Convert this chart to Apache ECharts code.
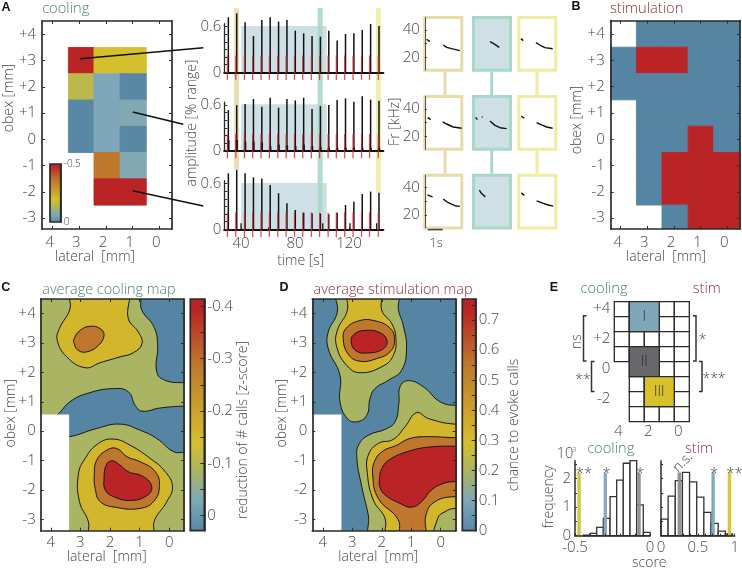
<!DOCTYPE html>
<html><head><meta charset="utf-8">
<style>html,body{margin:0;padding:0;background:#fff}#c{width:742px;height:569px}</style>
<script src="https://cdn.jsdelivr.net/npm/echarts@6/dist/echarts.min.js"></script>
</head><body><div id="c"></div>
<script>
// ---------- colours ----------
const BLUE='#5685a3',LBLUE='#7fa7b9',OLIVE='#a9b562',YEL='#d2b72c',ORG='#bf772d',RED='#bb2426';
const SHADE='#cfdfe6',TAN='#e8dca8',MINT='#a8d8c8',PALE='#f0eca2';
const GREENT='#4f7f73',REDT='#8e2f38',TEXT='#474747',INK='#2b2b2b',FONT='"Open Sans"';

// ---------- panel A: cooling map ----------
const coolLateral=[2.92,1.96,0.98];
const coolObex=[3,2,1,0,-1,-2];
const coolValues=[
 [-.5,-.19,-.19],
 [-.155,-.065,-.005],
 [-.005,-.065,-.07],
 [-.005,-.065,-.005],
 [null,-.36,-.07],
 [null,-.5,-.5]];
const barTicksA=[-.5,0];

// ---------- panel A: amplitude traces ----------
const peakTimes=[30.6,36.8,43,49.2,55.4,61.6,67.8,74,80.2,86.4,92.6,98.8,105,111.2,117.4,123.6,129.8,136,142.2];
const stimTimes=[29.9,36.1,42.5,48.6,54.8,61,67.2,73.4,79.6,85.7,92.1,98.2,104.5,110.6,116.8,123,129.3,135.2,141.7];
const ampTop=[.724,.776,.658,.478,.689,.724,.667,.689,.548,.513,.478,.469,.548,.417,.504,.513,.557,.636,.61];
const ampMid=[.535,.60,.614,.68,.579,.697,.566,.68,.662,.697,.548,.588,.60,.667,.689,.645,.715,.671,.658];
const ampMidLow=[.14,.14,.12,.12,.11,.06,.08,.07,.06,.08,.06,.05,.04,.04,.04,.04,.04,.04,.04];
const ampBot=[.737,.78,.737,.684,.667,.583,.474,.342,.254,.219,.21,.21,.197,.219,.32,.364,.465,.496,.482];
const botExtraTimes=[40,100.5,120.7,140.5];
const botExtraAmp=[.08,.08,.08,.08];
const coolingWindow=[40,103.5,0.61];
const stripeBands=[[34.8,38.5,.268,TAN],[96.8,100.5,.078,MINT],[140,143.7,.164,PALE]];

// ---------- panel A: spectrogram contours [s, kHz], null separates syllables ----------
const spec11=[[.22,33.2],[.44,31.5],[null,null],[1.33,29],[1.56,27.3],[1.89,26.3],[2.44,24.9]];
const spec12=[[1.2,31.5],[1.42,30.2],[1.82,27.3]];
const spec13=[[.24,33.7],[.4,32.2],[null,null],[1.24,30.7],[1.51,29],[1.84,27.1],[2.36,26.3]];
const spec21=[[.29,33.7],[.49,32.2],[null,null],[1.29,30.5],[1.56,29],[2.0,26.8],[2.56,25.9]];
const spec22=[[.24,33.9],[.36,32.2],[null,null],[.69,34.6],[.69,33.7],[null,null],[1.2,31.2],[1.53,28],[1.87,26.3],[2.31,25.6]];
const spec23=[[.27,34.9],[.47,33.2],[null,null],[1.29,30],[1.62,28.3],[1.96,26.8],[2.36,25.9]];
const spec31=[[.27,34.8],[.62,33.3],[null,null],[1.33,31.6],[1.67,29],[2.11,26.8],[2.44,26.3]];
const spec32=[[.49,38.2],[.64,35.7],[.89,33.3]];
const spec33=[[.27,36.2],[.47,34.3],[null,null],[1.29,30.4],[1.73,28.5],[2.07,27.3],[2.4,26.5]];

// ---------- panel B: stimulation map (0 no call, 1 call, null untested) ----------
const stimLateral=[3.9,2.92,1.96,0.98,0.02];
const stimObex=[4,3,2,1,0,-1,-2,-3];
const stimValues=[
 [null,0,0,0,0],
 [0,1,1,0,0],
 [0,0,0,0,0],
 [null,0,0,0,0],
 [null,0,0,1,0],
 [null,0,1,1,1],
 [null,0,1,1,1],
 [null,null,0,1,1]];

// ---------- panel C: contours [lateral mm, obex mm] ----------
const cBlueTop=[[.96,5.5],[.96,4.48],[.92,4.11],[.51,3.54],[.39,2.92],[.42,2.02],[.135,1.73],[-.51,1.65],[-1.8,1.65],[-1.8,5.5]];
const cBlueMid=[[3.78,.55],[3.35,1.0],[2.78,1.28],[1.88,1.45],[1.38,1.34],[1.15,.88],[.92,.68],[.30,.79],[-.51,.85],[-2.2,.85],[-2.2,-.76],[-.51,-.72],[-.15,-.70],[.42,-.25],[.98,.03],[1.66,.24],[2.45,.09],[3.37,-.19],[4.25,-.25],[4.25,.2]];
const cYellowTop=[[3.33,4.85],[3.35,4.17],[3.71,3.49],[3.78,3.09],[3.46,2.53],[2.84,2.16],[2.33,2.33],[1.66,2.53],[1.21,2.67],[.92,2.98],[1.04,3.37],[1.38,3.83],[1.45,4.85]];
const cOrangeTop=[[3.21,3.15],[3.01,3.43],[2.67,3.57],[2.33,3.49],[2.20,3.26],[2.39,2.92],[2.78,2.70],[3.07,2.75],[3.21,2.98]];
const cYellowLow=[[2.65,-3.76],[2.73,-3.08],[3.03,-2.40],[3.07,-1.49],[2.84,-.93],[2.39,-.42],[1.88,-.27],[1.32,-.48],[.64,-.93],[.135,-1.38],[-.11,-1.89],[.08,-2.40],[.51,-3.08],[.55,-3.76]];
const cOrangeLow=[[2.53,-1.49],[2.45,-.99],[2.11,-.65],[1.77,-.59],[1.43,-.87],[.98,-1.04],[.47,-1.38],[.33,-1.89],[.53,-2.40],[.98,-2.63],[1.77,-2.60],[2.33,-2.40],[2.50,-1.95]];
const cRedLow=[[2.20,-1.61],[2.13,-1.16],[1.94,-1.01],[1.71,-1.12],[1.38,-1.38],[.87,-1.55],[.59,-1.89],[.76,-2.20],[1.32,-2.36],[1.88,-2.23],[2.16,-2.00]];

// ---------- panel D: contours ----------
const dGreenTop=[[3.51,4.85],[3.51,4.05],[3.82,3.37],[3.82,2.81],[3.42,1.90],[3.42,1.0],[3.17,.43],[2.85,.32],[2.51,.54],[2.40,1.11],[2.23,1.45],[1.78,1.73],[1.33,2.07],[1.16,2.81],[1.27,3.60],[1.44,4.17],[1.44,4.85]];
const dYellowTop=[[3.14,4.85],[3.17,4.11],[3.51,3.43],[3.53,2.87],[3.19,2.24],[2.74,1.99],[1.95,2.22],[1.61,2.58],[1.52,3.15],[1.66,3.66],[2.0,4.11],[2.06,4.85]];
const dOrangeTop=[[3.31,3.15],[3.22,3.49],[2.80,3.75],[2.29,3.77],[1.72,3.51],[1.57,3.09],[1.72,2.70],[2.17,2.47],[2.74,2.38],[3.14,2.62]];
const dRedTop=[[3.04,3.04],[2.94,3.30],[2.57,3.43],[2.06,3.35],[1.82,3.07],[1.97,2.79],[2.51,2.66],[2.88,2.74]];
const dGreenLow=[[2.32,-3.76],[2.46,-2.85],[2.68,-1.89],[2.85,-.87],[2.76,-.42],[2.40,-.11],[1.89,.06],[1.55,.32],[1.42,.94],[1.38,1.51],[1.10,1.72],[.59,1.51],[.02,1.0],[-.51,.88],[-2,.86],[-2,-3.76]];
const dYellowLow=[[1.78,-3.70],[1.89,-2.97],[2.29,-2.34],[2.49,-1.44],[2.46,-.82],[2.12,-.42],[1.61,-.28],[1.21,.15],[.82,.63],[.42,.43],[-.49,.24],[-2.24,.24],[-2.24,-3.7]];
const dOrangeLow=[[1.35,-3.70],[1.44,-3.02],[2.12,-2.29],[2.31,-1.49],[2.23,-.99],[1.95,-.67],[1.49,-.48],[1.10,-.27],[.59,-.19],[-.49,-.22],[-2.24,-.22],[-2.24,-2.23],[-.49,-2.23],[.19,-2.40],[.50,-2.85],[.57,-3.70]];
const dRedLow=[[2.08,-1.66],[2.0,-1.27],[1.72,-.96],[1.04,-.67],[.36,-.54],[-.49,-.51],[-2.24,-.51],[-2.24,-1.72],[-.49,-1.72],[-.09,-1.78],[.31,-2.0],[.65,-2.4],[.99,-2.59],[1.38,-2.46],[1.89,-2.17],[2.06,-1.91]];
const dGreenCorner=[[.14,-3.7],[.10,-2.97],[-.15,-2.74],[-.49,-2.63],[-2.24,-2.63],[-2.24,-3.7]];
const untestedC=[4.6,3.38,.57,-3.6];
const untestedD=[4.6,3.37,.57,-3.6];

// ---------- colour bars ----------
const barStops=[[0,BLUE],[.13,LBLUE],[.26,OLIVE],[.38,'#d6bf2c'],[.72,ORG],[.95,RED],[1,RED]];
const barLabelsC=[-.4,-.3,-.2,-.1,0];
const barTicksC=[-.4,-.35,-.3,-.25,-.2,-.15,-.1,-.05,0];
const barLabelsD=[0,.1,.2,.3,.4,.5,.6,.7];
const barTicksD=[0,.05,.1,.15,.2,.25,.3,.35,.4,.45,.5,.55,.6,.65,.7,.75];

// ---------- panel E: regions ----------
const regionLateral=[4,3,2,1,0];
const regionObex=[4,3,2,1,0,-1,-2,-3];
const regionMask=[[1,1,1,1,1],[1,1,1,1,1],[1,1,1,1,1],[1,1,1,1,1],[0,1,1,1,1],[0,1,1,1,1],[0,1,1,1,1],[0,1,1,1,1]];
const regionBlocks=[[3.5,1.5,4.5,2.5,LBLUE,'I'],[3.5,1.5,1.5,-.5,'#68686c','II'],[2.5,.5,-.5,-2.5,'#d8c22c','III']];

// ---------- panel E: histograms (score, frequency x 10^3) ----------
const coolBins=[-.422,-.378,-.333,-.289,-.244,-.2,-.156,-.111,-.067,-.022];
const coolFreq=[.02,.08,.29,.61,1.37,1.95,2.54,2.63,1.08,.12];
const coolCuts=[[-.473,2.2,'#d8c22c','**'],[-.298,2.2,LBLUE,'*'],[-.073,2.2,'#8d8d8d','*']];
const stimBins=[.048,.145,.242,.339,.436,.533,.63,.727,.824,.921];
const stimFreq=[.58,1.39,1.93,2.22,1.89,1.35,.82,.43,.16,.06];
const stimCuts=[[.248,2.22,'#8d8d8d',''],[.707,2.22,LBLUE,'*'],[.928,2.22,'#d8c22c','**']];

// ---------- helpers ----------
const option={animation:false,backgroundColor:'#fff',grid:[],xAxis:[],yAxis:[],series:[],graphic:{elements:[]}};
function axis(grid,range,c){c=c||{};return{gridIndex:grid,type:'value',min:range[0],max:range[1],inverse:!!c.inverse,position:c.position,z:5,
  splitLine:{show:false},
  axisLine:{show:c.line!==false,onZero:false,lineStyle:{color:c.lineColor||INK,width:c.lw||1.7}},
  axisTick:{show:!!c.ticks,inside:true,length:c.tlen||3,customValues:c.ticks,lineStyle:{color:INK,width:1}},
  axisLabel:{show:!!c.labels,customValues:c.labels,margin:c.margin===undefined?5:c.margin,formatter:c.fmt,padding:c.pad,color:TEXT,fontFamily:'Open Sans',fontWeight:300,fontSize:c.size||15}};}
function panel(l,t,w,h,xr,yr,xc,yc,g){
  const gi=option.grid.length;
  option.grid.push(Object.assign({left:l,top:t,width:w,height:h,containLabel:false,show:false},g||{}));
  const xi=option.xAxis.length,yi=option.yAxis.length;
  option.xAxis.push(axis(gi,xr,Object.assign({position:'bottom'},xc)));
  option.yAxis.push(axis(gi,yr,Object.assign({position:'left'},yc)));
  return{gi,xi,yi,xr,yr};
}
function mirror(p,xc,yc){
  option.xAxis.push(axis(p.gi,p.xr,Object.assign({position:'top'},xc)));
  option.yAxis.push(axis(p.gi,p.yr,Object.assign({position:'right'},yc)));
}
function custom(p,items,draw,z,clip){
  option.series.push({type:'custom',xAxisIndex:p.xi,yAxisIndex:p.yi,z:z||2,clip:!!clip,silent:true,
    data:items.map((_,i)=>[i,0]),renderItem:(params,api)=>draw(items[params.dataIndex],api)});
}
function rectOf(api,x0,y0,x1,y1){const a=api.coord([x0,y0]),b=api.coord([x1,y1]);
  return{x:Math.min(a[0],b[0]),y:Math.min(a[1],b[1]),width:Math.abs(a[0]-b[0]),height:Math.abs(a[1]-b[1])};}
function hex(c){return[1,3,5].map(i=>parseInt(c.substr(i,2),16));}
function ramp(f){f=Math.max(0,Math.min(1,f));for(let i=1;i<barStops.length;i++){if(f<=barStops[i][0]){
  const [a,ca]=barStops[i-1],[b,cb]=barStops[i],t=(f-a)/(b-a),A=hex(ca),B=hex(cb);
  return'rgb('+A.map((v,k)=>Math.round(v+(B[k]-v)*t)).join(',')+')';}}return RED;}
function txt(x,y,s,o){o=o||{};option.graphic.elements.push({type:'text',x,y,z:100,rotation:o.rot||0,silent:true,
  style:{text:s,fill:o.color||TEXT,align:o.align||'center',verticalAlign:'middle',font:(o.weight||300)+' '+(o.size||14)+'px '+(o.family||FONT)}});}
function seg(pts,color,w){option.graphic.elements.push({type:'polyline',z:90,silent:true,shape:{points:pts},style:{stroke:color||'#111',lineWidth:w||1.5,fill:null}});}
const signed=v=>v>0?'+'+v:''+v;
const YT=[4,3,2,1,0,-1,-2,-3],XT=[4,3,2,1,0];
function mapPanel(l,t,w,h,xr,yr,margin,pad){
  return panel(l,t,w,h,xr,yr,
    {inverse:true,ticks:XT,labels:XT,margin:margin,pad:pad},
    {ticks:YT,labels:YT,fmt:signed,margin:margin});
}
function mapMirror(p){mirror(p,{inverse:true,ticks:XT},{ticks:YT});}
function contours(p,list,z){custom(p,list,(it,api)=>({type:'polygon',shape:{points:it[0].map(q=>api.coord(q)),smooth:.45},
  style:{fill:it[1],stroke:'#161616',lineWidth:1}}),z||2,true);}
function colorBar(l,t,w,h,yr,inv,labels,ticks,size,margin){
  const p=panel(l,t,w,h,[0,1],yr,{line:false},{inverse:inv,position:'right',labels,ticks,size,margin,lw:1.7,tlen:4});
  option.xAxis[p.xi].show=false;
  const st=barStops.map(s=>({offset:1-s[0],color:s[1]})).reverse();
  custom(p,[0],(_,api)=>({type:'rect',shape:rectOf(api,0,yr[0],1,yr[1]),style:{fill:{type:'linear',x:0,y:0,x2:0,y2:1,colorStops:st},stroke:INK,lineWidth:1.7}}),2);
  return p;
}
function vlines(p,xs,lows,highs,color,w,z){
  custom(p,xs.map((x,i)=>[x,Array.isArray(lows)?lows[i]:lows,Array.isArray(highs)?highs[i]:highs]),
   (v,api)=>{const a=api.coord([v[0],v[1]]),b=api.coord([v[0],v[2]]);
     return{type:'line',shape:{x1:a[0],y1:a[1],x2:b[0],y2:b[1]},style:{stroke:color,lineWidth:w}};},z);
}

// ---------- panel A heatmap ----------
{
 const cells=[];coolValues.forEach((r,i)=>r.forEach((v,j)=>{if(v!==null)cells.push([coolLateral[j],coolObex[i],v]);}));
 const p=mapPanel(42,21,130,208,[-.475,4.4],[-3.41,4.507],6,[0,6,0,0]);mapMirror(p);
 custom(p,cells,(c,api)=>{const col=ramp(Math.abs(c[2])/.5);return{type:'rect',shape:rectOf(api,c[0]+.49,c[1]+.5,c[0]-.49,c[1]-.5),style:{fill:col,stroke:col,lineWidth:.9}};},2,true);
 colorBar(50,164,10.7,58,[-.5,0],true,barTicksA,null,10,3);
}
// ---------- panel A traces ----------
{
 const TR=[27.6,145.4];
 const ov=panel(224.3,8,159,221.3,TR,[0,1],{line:false},{line:false});
 option.xAxis[ov.xi].show=false;option.yAxis[ov.yi].show=false;
 const shadePanels=[];
 [[72.3,ampTop],[150.7,ampMid],[229.3,ampBot]].forEach((d,i)=>{
  const base=d[0],top=base-.64*76;
  const last=i===2;
  const p=panel(224.3,top,159,.64*76,TR,[0,.64],
   {lw:2.2,lineColor:'#111',ticks:last?[40,60,80,100,120,140]:null,labels:last?[40,80,120]:null,margin:7,tlen:2},
   {lw:1.3,ticks:[0,.1,.2,.3,.4,.5,.6],labels:[0,.6],margin:3,tlen:3});
  custom(p,[coolingWindow],(w,api)=>({type:'rect',shape:rectOf(api,w[0],0,w[1],w[2]),style:{fill:SHADE}}),1);
  shadePanels.push(p);
 });
 custom(ov,stripeBands,(b,api)=>({type:'rect',shape:rectOf(api,b[0],b[2],b[1],1),style:{fill:b[3],opacity:.9}}),2);
 vlines(shadePanels[0],peakTimes,0,ampTop,'#111',1.5,3);
 vlines(shadePanels[1],peakTimes,0,ampMid,'#111',1.5,3);
 vlines(shadePanels[1],peakTimes,0,ampMidLow,'#111',2.4,3);
 vlines(shadePanels[2],peakTimes,0,ampBot,'#111',1.5,3);
 vlines(shadePanels[2],botExtraTimes,0,botExtraAmp,'#111',1.3,3);
 shadePanels.forEach(p=>vlines(p,stimTimes,-.1,.22,'rgba(200,40,50,.8)',1.25,6));
}
// ---------- panel A spectrograms ----------
{
 const cols=[[424.8,TAN,'#fff'],[473.5,MINT,SHADE],[518.8,PALE,'#fff']];
 const tops=[17.5,96.5,175.2];
 const specs=[[spec11,spec12,spec13],[spec21,spec22,spec23],[spec31,spec32,spec33]];
 tops.forEach((t,r)=>cols.forEach((c,k)=>{
  const withAxis=k===0;
  const p=panel(c[0],t,37,52.7,[.1,2.57],[10.5,49.2],{line:false},
    {line:withAxis,lw:1,lineColor:'#555',ticks:withAxis?[20,30,40]:null,labels:withAxis?[20,40]:null,margin:5,tlen:2},
    {show:true,borderColor:c[1],borderWidth:3,backgroundColor:c[2]});
  option.series.push({type:'line',xAxisIndex:p.xi,yAxisIndex:p.yi,data:specs[r][k],showSymbol:false,symbol:'none',connectNulls:false,silent:true,
    lineStyle:{color:'#111',width:1.4},z:4});
 }));
 [[445,TAN],[491.7,MINT],[537,PALE]].forEach(c=>{[[71.7,95],[150,173.7]].forEach(s=>seg([[c[0],s[0]],[c[0],s[1]]],c[1],3));});
}
// ---------- panel B ----------
{
 const cells=[];stimValues.forEach((r,i)=>r.forEach((v,j)=>{if(v!==null)cells.push([stimLateral[j],stimObex[i],v]);}));
 const p=mapPanel(610.7,20.7,129.3,208.3,[-.477,4.376],[-3.41,4.507],6,[0,6,0,0]);mapMirror(p);
 custom(p,cells,(c,api)=>{const col=c[2]?RED:BLUE;return{type:'rect',shape:rectOf(api,c[0]+.49,c[1]+.5,c[0]-.49,c[1]-.5),style:{fill:col,stroke:col,lineWidth:.9}};},2,true);
}
// ---------- panel C ----------
{
 const p=mapPanel(40.7,299,143.3,231.7,[-.5,4.34],[-3.39,4.5],5);mapMirror(p);
 custom(p,[0],(_,api)=>({type:'rect',shape:rectOf(api,-1,-4,5,5),style:{fill:OLIVE}}),1,true);
 contours(p,[[cBlueTop,BLUE],[cBlueMid,BLUE],[cYellowTop,YEL],[cOrangeTop,ORG],[cYellowLow,YEL],[cOrangeLow,ORG],[cRedLow,RED]],2);
 custom(p,[untestedC],(u,api)=>({type:'rect',shape:rectOf(api,u[0],u[2],u[1],u[3]),style:{fill:'#fff'}}),3,true);
 colorBar(190.3,299,14,231.7,[-.414,.0287],true,barLabelsC,barTicksC,15,3);
}
// ---------- panel D ----------
{
 const p=mapPanel(312.3,299,143.4,231.7,[-.51,4.36],[-3.39,4.5],5);mapMirror(p);
 custom(p,[0],(_,api)=>({type:'rect',shape:rectOf(api,-1,-4,5,5),style:{fill:BLUE}}),1,true);
 contours(p,[[dGreenTop,OLIVE],[dYellowTop,YEL],[dOrangeTop,ORG],[dRedTop,RED],[dGreenLow,OLIVE],[dYellowLow,YEL],[dOrangeLow,ORG],[dRedLow,RED],[dGreenCorner,OLIVE]],2);
 custom(p,[untestedD],(u,api)=>({type:'rect',shape:rectOf(api,u[0],u[2],u[1],u[3]),style:{fill:'#fff'}}),3,true);
 colorBar(462.3,299,13.4,231.7,[0,.77],false,barLabelsD,barTicksD,15,3);
}
// ---------- panel E regions ----------
{
 const p=panel(614.3,301.7,75,120,[-.5,4.5],[-3.5,4.5],
   {inverse:true,line:false,labels:[4,2,0],margin:3,pad:[0,7,0,0]},
   {line:false,labels:[4,2,0,-2],fmt:signed,margin:4,pad:[9,0,0,0]});
 const cells=[];regionMask.forEach((r,i)=>r.forEach((m,j)=>{if(m)cells.push([regionLateral[j],regionObex[i]]);}));
 custom(p,cells,(c,api)=>({type:'rect',shape:rectOf(api,c[0]+.5,c[1]+.5,c[0]-.5,c[1]-.5),style:{fill:'#fff',stroke:'#2b2b2b',lineWidth:1.3}}),2);
 custom(p,regionBlocks,(b,api)=>{const s=rectOf(api,b[0],b[2],b[1],b[3]);
   return{type:'group',children:[{type:'rect',shape:s,style:{fill:b[4],stroke:'#2b2b2b',lineWidth:1.3}},
     {type:'text',x:s.x+s.width/2,y:s.y+s.height/2,style:{text:b[5],fill:'#2b2b2b',align:'center',verticalAlign:'middle',font:'300 14px '+FONT}}]};},3);
}
// ---------- panel E histograms ----------
function hist(l,w,xr,bins,freq,cuts,binW,xlabels,xticks,ylabels){
 const p=panel(l,460.7,w,75,xr,[0,2.63],{labels:xlabels,ticks:xticks,margin:5,lw:1.5,tlen:2},
   {labels:ylabels,ticks:[0,.5,1,1.5,2,2.5],margin:4,lw:1.5,tlen:2});
 custom(p,bins.map((b,i)=>[b,freq[i]]),(b,api)=>({type:'rect',shape:rectOf(api,b[0]-binW/2,0,b[0]+binW/2,b[1]),style:{fill:'#fff',stroke:'#333',lineWidth:1.3}}),2);
 custom(p,cuts,(c,api)=>{const a=api.coord([c[0],0]),b=api.coord([c[0],c[1]]);
   return{type:'group',children:[{type:'line',shape:{x1:a[0],y1:a[1],x2:b[0],y2:b[1]},style:{stroke:c[2],lineWidth:3.4,opacity:.95}},
     {type:'text',x:b[0]+(c[3].length>1?5:1),y:b[1]+1,style:{text:c[3],fill:TEXT,align:'center',verticalAlign:'middle',font:'300 15px '+FONT}}]};},3);
}
hist(575,75,[-.5,0],coolBins,coolFreq,coolCuts,.0444,[-.5,0],[-.5,-.4,-.3,-.2,-.1,0],[0,1,2]);
hist(661,74,[0,1],stimBins,stimFreq,stimCuts,.0968,[0,.5,1],[0,.1,.2,.3,.4,.5,.6,.7,.8,.9,1],null);

// ---------- connector lines & brackets ----------
seg([[80,58.7],[203.3,47.7]],'#111',1.5);
seg([[132.7,112],[183.3,124.3]],'#111',1.5);
seg([[132.7,190.7],[203.3,206]],'#111',1.5);
seg([[427.7,229.6],[442.7,229.6]],'#444',1.6);
seg([[586.5,315.7],[583.5,315.7],[583.5,361],[586.5,361]],'#333',1.5);
seg([[594.5,361.5],[591.5,361.5],[591.5,391.5],[594.5,391.5]],'#333',1.5);
seg([[693,315.7],[696,315.7],[696,361],[693,361]],'#333',1.5);
seg([[699,361.5],[702,361.5],[702,391.5],[699,391.5]],'#333',1.5);

// ---------- text ----------
const U=Math.PI/2;
[['A',6,7.5],['B',576,7],['C',5.7,287.7],['D',284,287.7],['E',554,287.7]].forEach(a=>txt(a[1],a[2],a[0],{weight:700,size:12.5,family:'Liberation Sans',color:'#111'}));
txt(65.7,9.3,'cooling',{color:GREENT,size:14.7});
txt(646.7,9.3,'stimulation',{color:REDT,size:14.7});
txt(109,290,'average cooling map',{color:GREENT,size:14.4});
txt(393,290,'average stimulation map',{color:REDT,size:14.4});
txt(604,289,'cooling',{color:GREENT,size:14.7});
txt(706.7,289,'stim',{color:REDT,size:14.7});
txt(610.7,449,'cooling',{color:GREENT,size:14.7});
txt(699,449,'stim',{color:REDT,size:14.7});
txt(9.3,98,'obex [mm]',{rot:U});
txt(95,256.7,'lateral  [mm]');
txt(192,123,'amplitude [% range]',{rot:U});
txt(300.7,261,'time [s]');
txt(395,121.7,'Fr [kHz]',{rot:U});
txt(436,243,'1s',{size:13});
txt(576.7,120,'obex [mm]',{rot:U});
txt(666,256.7,'lateral  [mm]');
txt(10.7,413.3,'obex [mm]',{rot:U});
txt(106.7,557.3,'lateral  [mm]');
txt(243.3,430,'reduction of # calls [z-score]',{rot:U});
txt(282.3,413.3,'obex [mm]',{rot:U});
txt(378.3,557.3,'lateral  [mm]');
txt(514,425,'chance to evoke calls',{rot:U});
txt(576.7,341.7,'ns',{rot:U});
txt(583,380,'**',{size:14});
txt(702.7,340,'*',{size:14});
txt(714,379.5,'***',{size:14});
txt(549.3,496.7,'frequency',{rot:U});
txt(649.3,563,'score');
txt(565,454,'10',{size:14.5});
txt(574,450,'3',{size:8});
txt(682.7,462.3,'n.s.',{rot:Math.PI/4});

const chart=echarts.init(document.getElementById('c'),null,{renderer:'canvas'});
chart.setOption(option);
</script></body></html>
